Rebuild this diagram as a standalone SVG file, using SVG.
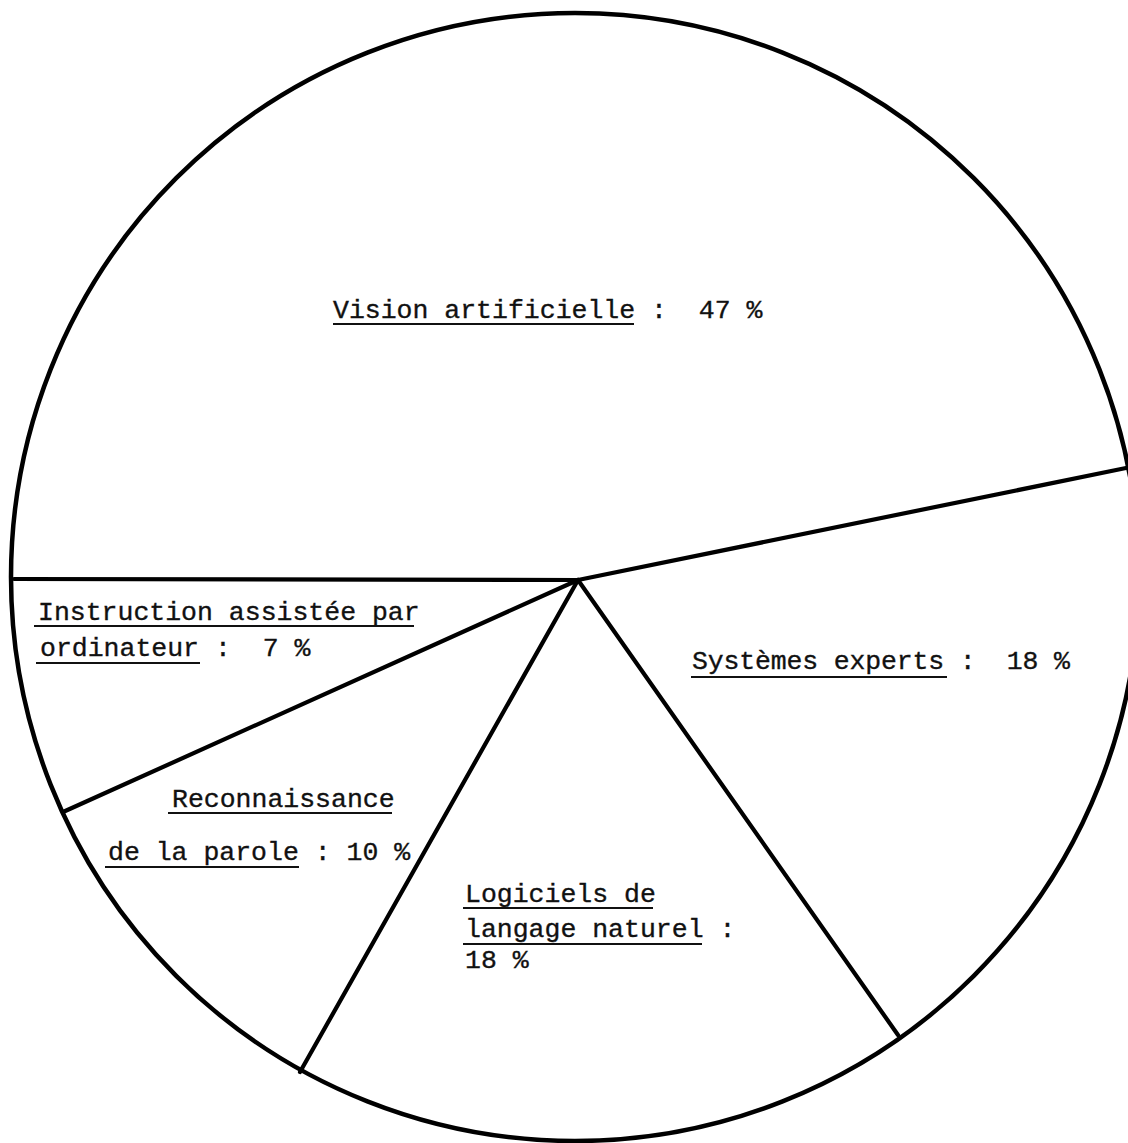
<svg xmlns="http://www.w3.org/2000/svg" width="1128" height="1143" viewBox="0 0 1128 1143">
  <style>
    .rim { fill: none; stroke: #000; stroke-width: 4.5; }
    .cut { stroke: #000; stroke-width: 4.2; stroke-linecap: round; }
    .lbl { font-family: "Liberation Mono", "DejaVu Sans Mono", monospace; font-size: 26.5px; fill: #111; stroke: #111; stroke-width: 0.35; }
    .ul { stroke: #111; stroke-width: 2; }
  </style>
  <rect width="1128" height="1143" fill="#fff"/>

  <!-- pie outline -->
  <g id="pie">
    <circle class="rim" cx="575" cy="577" r="564"/>
  </g>

  <!-- slice boundaries radiating from the centre -->
  <g id="connectors">
    <line class="cut" x1="578" y1="580" x2="14" y2="579"/>
    <line class="cut" x1="578" y1="580" x2="1126" y2="468"/>
    <line class="cut" x1="578" y1="580" x2="63" y2="812"/>
    <line class="cut" x1="578" y1="580" x2="300" y2="1072"/>
    <line class="cut" x1="578" y1="580" x2="898" y2="1035"/>
  </g>

  <g id="vision">
    <text class="lbl" x="333" y="318" xml:space="preserve">Vision artificielle :  47 %</text>
    <line class="ul" x1="333" y1="324" x2="634" y2="324"/>
  </g>

  <g id="instruction">
    <text class="lbl" x="38" y="620" xml:space="preserve">Instruction assistée par</text>
    <line class="ul" x1="34" y1="626" x2="414" y2="626"/>
    <text class="lbl" x="40" y="656" xml:space="preserve">ordinateur :  7 %</text>
    <line class="ul" x1="36" y1="663" x2="200" y2="663"/>
  </g>

  <g id="systemes">
    <text class="lbl" x="692" y="669" xml:space="preserve" textLength="378">Systèmes experts :  18 %</text>
    <line class="ul" x1="691" y1="677" x2="947" y2="677"/>
  </g>

  <g id="reconnaissance">
    <text class="lbl" x="172" y="807" xml:space="preserve">Reconnaissance</text>
    <line class="ul" x1="168" y1="813" x2="392" y2="813"/>
    <text class="lbl" x="108" y="860" xml:space="preserve">de la parole : 10 %</text>
    <line class="ul" x1="105" y1="867" x2="299" y2="867"/>
  </g>

  <g id="logiciels">
    <text class="lbl" x="465" y="902" xml:space="preserve">Logiciels de</text>
    <line class="ul" x1="463" y1="908" x2="653" y2="908"/>
    <text class="lbl" x="465" y="937" xml:space="preserve">langage naturel :</text>
    <line class="ul" x1="463" y1="944" x2="702" y2="944"/>
    <text class="lbl" x="465" y="968" xml:space="preserve">18 %</text>
  </g>
</svg>
